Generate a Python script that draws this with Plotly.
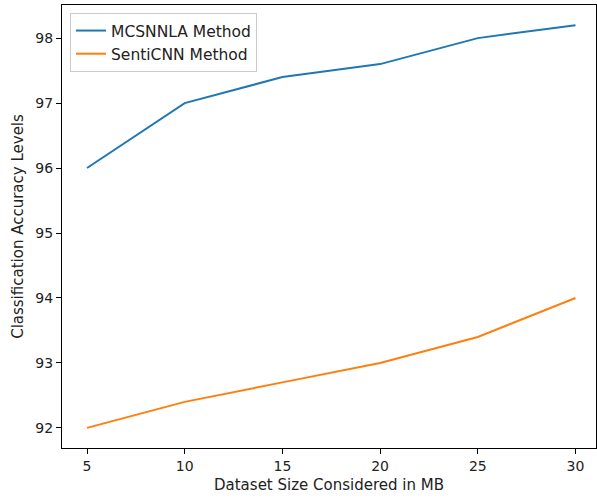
import plotly.graph_objects as go

sizes = [5, 10, 15, 20, 25, 30]
mcsnnla = [96.0, 97.0, 97.4, 97.6, 98.0, 98.2]
senticnn = [92.0, 92.4, 92.7, 93.0, 93.4, 94.0]
x_ticks = [5, 10, 15, 20, 25, 30]
y_ticks = [92, 93, 94, 95, 96, 97, 98]

font = "DejaVu Sans"
fig = go.Figure()
fig.add_trace(go.Scatter(x=sizes, y=mcsnnla, mode="lines", name="MCSNNLA Method",
                         line=dict(color="#1f77b4", width=2)))
fig.add_trace(go.Scatter(x=sizes, y=senticnn, mode="lines", name="SentiCNN Method",
                         line=dict(color="#ff7f0e", width=2)))

axis_common = dict(showgrid=False, zeroline=False, showline=True, linecolor="black",
                   linewidth=1, mirror=True, ticks="outside", ticklen=5, tickcolor="black",
                   tickfont=dict(family=font, size=14, color="#222"))
fig.update_xaxes(range=[3.72, 31.05], tickvals=x_ticks,
                 title=dict(text="Dataset Size Considered in MB",
                            font=dict(family=font, size=15, color="#222"), standoff=6),
                 **axis_common)
fig.update_yaxes(range=[91.69, 98.51], tickvals=y_ticks,
                 title=dict(text="Classification Accuracy Levels",
                            font=dict(family=font, size=15, color="#222"), standoff=8),
                 **axis_common)
fig.update_layout(
    width=597, height=501,
    margin=dict(l=62, r=1, t=5, b=53),
    plot_bgcolor="white", paper_bgcolor="white",
    font=dict(family=font, size=15, color="#222"),
    legend=dict(x=0.015, y=0.982, xanchor="left", yanchor="top",
                bordercolor="#cccccc", borderwidth=1, bgcolor="white",
                font=dict(family=font, size=15.5, color="#222")),
    showlegend=True,
)
fig.write_html("out.html", config={"displayModeBar": False},
               post_script="document.body.style.margin='0px';")
